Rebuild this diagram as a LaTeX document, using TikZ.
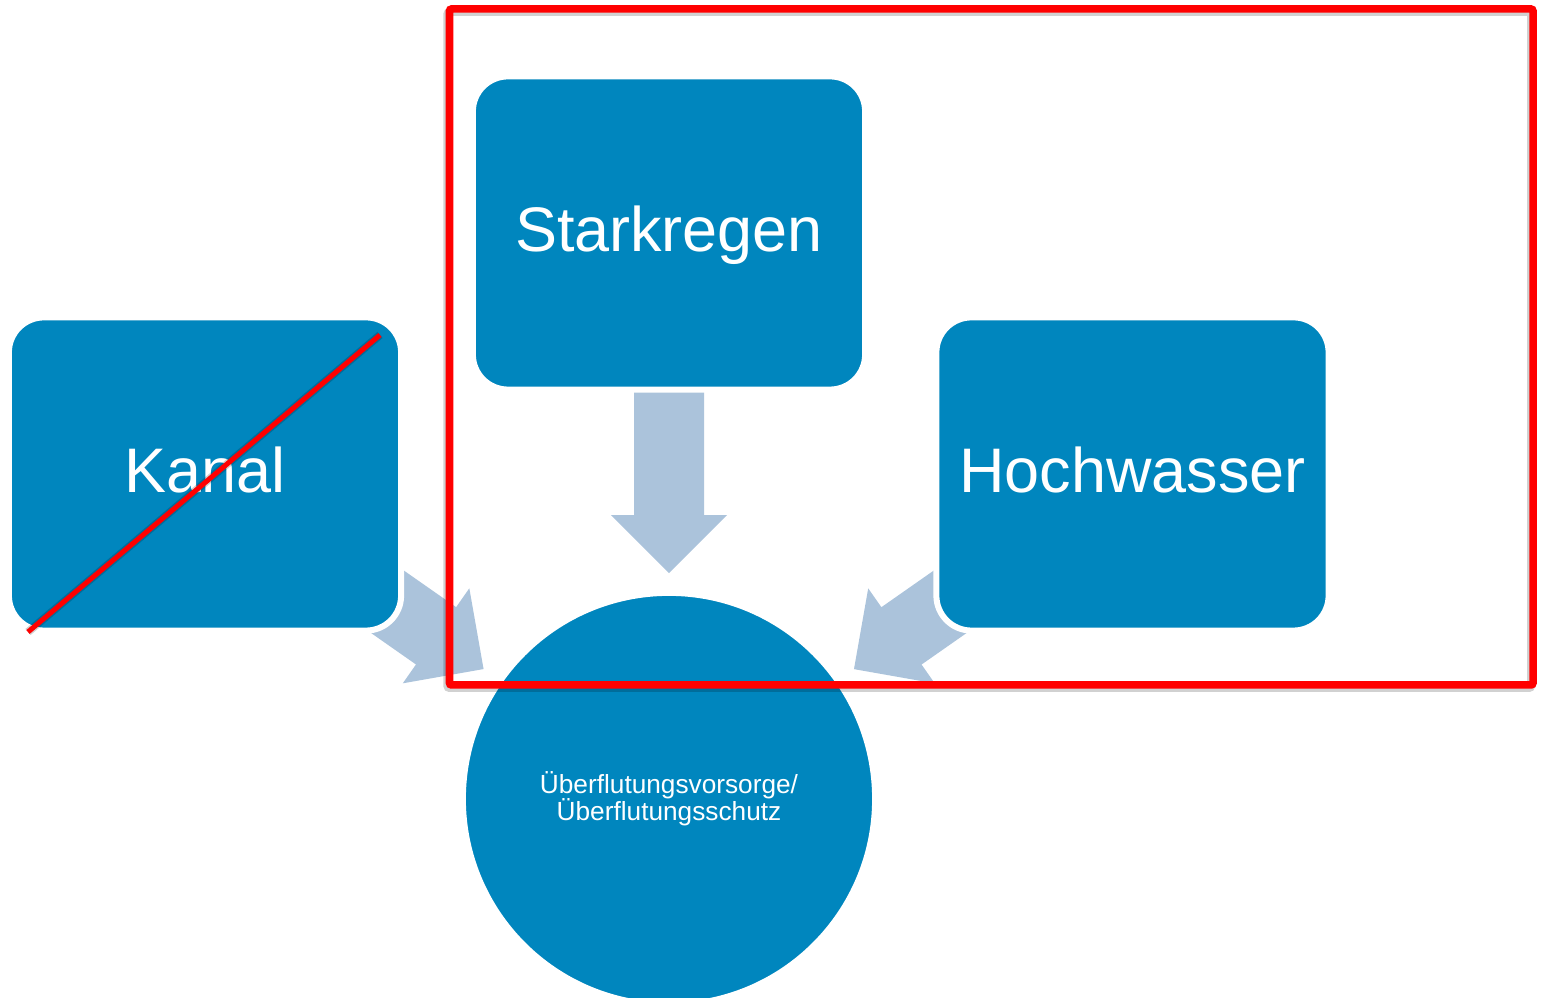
\documentclass[tikz,border=0pt]{standalone}
\usepackage{fontspec}
\setmainfont{Liberation Sans}
\usetikzlibrary{calc,backgrounds}
\definecolor{kastenblau}{RGB}{0,134,190}
\definecolor{pfeilgrau}{RGB}{171,195,219}
\definecolor{markrot}{RGB}{255,0,0}
\newcommand\kreisschrift{\fontsize{7.46}{7.7}\selectfont\lineskiplimit=-10pt\relax}
\tikzset{
	kasten/.style={fill=kastenblau, draw=white, line width=0.06cm, rounded corners=0.35cm, minimum width=3.92cm, minimum height=3.13cm, inner sep=0pt, text=white, text depth=0pt, text height=0.38cm, font=\fontsize{17.9}{20}\selectfont},
	ziel/.style={circle, fill=kastenblau, draw=white, line width=0.06cm, minimum size=4.12cm, inner sep=0pt, text=white, align=center, font=\kreisschrift},
	blockpfeil/.pic={\fill[pfeilgrau] (0,-35) -- (123,-35) -- (123,-58) -- (181,0) -- (123,58) -- (123,35) -- (0,35) -- cycle;},
	markierung/.style={markrot, line width=0.075cm},
	schatten/.style={black, opacity=0.18, line width=0.08cm}
}

\begin{document}
\begin{tikzpicture}[x=0.01cm, y=-0.01cm]
	\useasboundingbox (0,0) rectangle (1541,998);

	\node[kasten] (kanal) at (205,474) {Kanal};
	\node[kasten] (stark) at (669,233) {Starkregen};
	\node[kasten] (hoch) at (1132.5,474) {Hochwasser};
	\node[ziel] (ueber) at (669,799) {Überflutungsvorsorge/\\Überflutungsschutz};

	\begin{scope}[on background layer]
		\pic[rotate=-35] at ($(kanal.center)!1.59cm!(ueber.center)$) {blockpfeil};
		\pic[rotate=-90] at ($(stark.center)!1.59cm!(ueber.center)$) {blockpfeil};
		\pic[rotate=-145] at ($(hoch.center)!1.59cm!(ueber.center)$) {blockpfeil};
	\end{scope}

	\coordinate (strich-a) at (28,632);
	\coordinate (strich-b) at (380,335);
	\draw[schatten, shift={(2,3)}] (strich-a) -- (strich-b);
	\draw[markierung, line width=0.05cm] (strich-a) -- (strich-b);

	\draw[schatten, shift={(-2,3)}, rounded corners=0.02cm] (449.5,9) rectangle (1533,685);
	\draw[markierung, rounded corners=0.02cm] (449.5,9) rectangle (1533,685);
\end{tikzpicture}
\end{document}
